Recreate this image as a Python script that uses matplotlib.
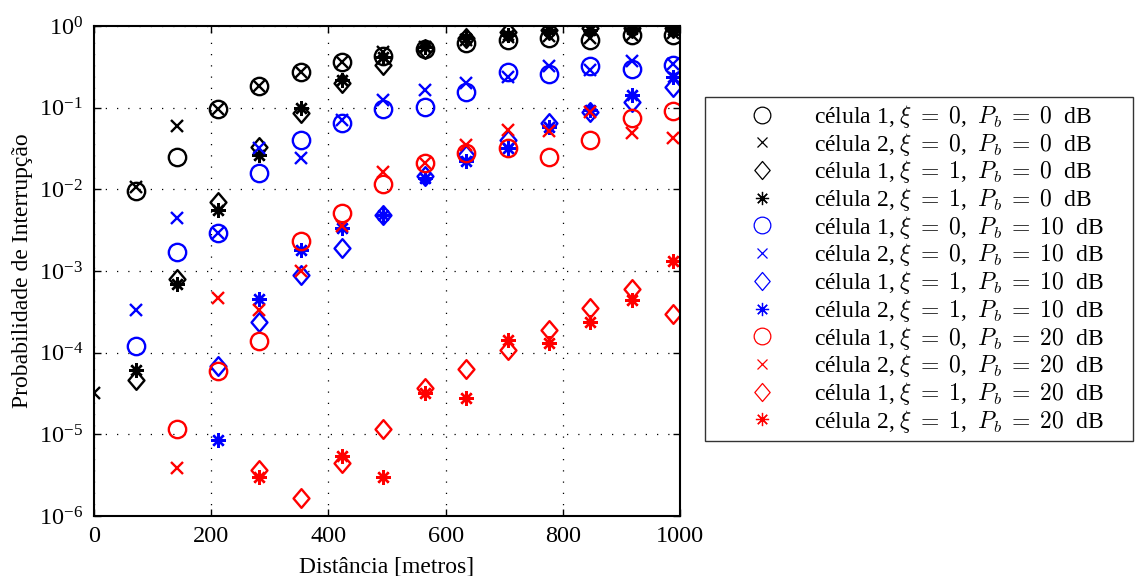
import numpy as np
import matplotlib
matplotlib.use("Agg")
import matplotlib.pyplot as plt
from matplotlib.path import Path
from matplotlib.lines import Line2D
from matplotlib.ticker import LogLocator, LogFormatterMathtext, NullLocator

plt.rcParams["font.family"] = "serif"
plt.rcParams["font.serif"] = ["Liberation Serif", "DejaVu Serif"]
plt.rcParams["mathtext.fontset"] = "cm"

nan = np.nan

# Distance from the base station [m]
dist = [0, 71, 141, 212, 282, 353, 424, 494, 565, 635, 706, 776, 847, 918, 988]

# Outage probability, Pb = 0 dB
c1_xi0_pb0 = [nan, 9.5e-3, 2.5e-2, 9.7e-2, 1.85e-1, 2.7e-1, 3.6e-1, 4.3e-1, 5.2e-1, 6.2e-1, 6.8e-1, 7.1e-1, 6.8e-1, 7.7e-1, 7.8e-1]
c2_xi0_pb0 = [3.2e-5, 1.07e-2, 6.0e-2, 9.7e-2, 1.85e-1, 2.7e-1, 3.6e-1, 4.8e-1, 5.5e-1, 6.7e-1, 7.3e-1, 7.5e-1, 7.1e-1, 7.7e-1, 8.2e-1]
c1_xi1_pb0 = [nan, 4.6e-5, 8.0e-4, 7.0e-3, 3.3e-2, 8.5e-2, 2.0e-1, 3.3e-1, 5.3e-1, 7.1e-1, 8.5e-1, 8.9e-1, 9.5e-1, 9.4e-1, 9.4e-1]
c2_xi1_pb0 = [nan, 6.2e-5, 7.0e-4, 5.6e-3, 2.6e-2, 9.8e-2, 2.2e-1, 4.2e-1, 5.6e-1, 7.1e-1, 7.8e-1, 8.9e-1, 8.9e-1, 9.3e-1, 8.9e-1]

# Outage probability, Pb = 10 dB
c1_xi0_pb10 = [nan, 1.2e-4, 1.7e-3, 2.9e-3, 1.6e-2, 4.0e-2, 6.4e-2, 9.6e-2, 1.03e-1, 1.57e-1, 2.7e-1, 2.56e-1, 3.2e-1, 3.0e-1, 3.3e-1]
c2_xi0_pb10 = [nan, 3.3e-4, 4.4e-3, 2.9e-3, 3.2e-2, 2.45e-2, 7.1e-2, 1.24e-1, 1.65e-1, 1.99e-1, 2.4e-1, 3.2e-1, 2.9e-1, 3.7e-1, 3.4e-1]
c1_xi1_pb10 = [nan, nan, nan, 6.8e-5, 2.4e-4, 9.0e-4, 1.9e-3, 4.9e-3, 1.47e-2, 2.6e-2, 4.0e-2, 6.4e-2, 8.9e-2, 1.16e-1, 1.8e-1]
c2_xi1_pb10 = [nan, nan, nan, 8.5e-6, 4.5e-4, 1.8e-3, 3.4e-3, 4.8e-3, 1.37e-2, 2.2e-2, 3.2e-2, 5.8e-2, 9.4e-2, 1.43e-1, 2.4e-1]

# Outage probability, Pb = 20 dB
c1_xi0_pb20 = [nan, nan, 1.15e-5, 6.0e-5, 1.4e-4, 2.3e-3, 5.2e-3, 1.15e-2, 2.1e-2, 2.77e-2, 3.2e-2, 2.5e-2, 4.0e-2, 7.5e-2, 9.1e-2]
c2_xi0_pb20 = [nan, nan, 3.9e-6, 4.7e-4, 3.3e-4, 1.0e-3, 3.6e-3, 1.65e-2, 2.1e-2, 3.5e-2, 5.3e-2, 5.2e-2, 8.9e-2, 4.9e-2, 4.2e-2]
c1_xi1_pb20 = [nan, nan, nan, nan, 3.7e-6, 1.65e-6, 4.5e-6, 1.15e-5, 3.7e-5, 6.3e-5, 1.08e-4, 1.9e-4, 3.5e-4, 6.1e-4, 2.95e-4]
c2_xi1_pb20 = [nan, nan, nan, nan, 3.0e-6, nan, 5.5e-6, 3.0e-6, 3.2e-5, 2.8e-5, 1.44e-4, 1.3e-4, 2.4e-4, 4.4e-4, 1.33e-3]

labels = [
    r"célula 1, $\xi\;=\;0$,  $P_b\;=\;0$  dB",
    r"célula 2, $\xi\;=\;0$,  $P_b\;=\;0$  dB",
    r"célula 1, $\xi\;=\;1$,  $P_b\;=\;0$  dB",
    r"célula 2, $\xi\;=\;1$,  $P_b\;=\;0$  dB",
    r"célula 1, $\xi\;=\;0$,  $P_b\;=\;10$  dB",
    r"célula 2, $\xi\;=\;0$,  $P_b\;=\;10$  dB",
    r"célula 1, $\xi\;=\;1$,  $P_b\;=\;10$  dB",
    r"célula 2, $\xi\;=\;1$,  $P_b\;=\;10$  dB",
    r"célula 1, $\xi\;=\;0$,  $P_b\;=\;20$  dB",
    r"célula 2, $\xi\;=\;0$,  $P_b\;=\;20$  dB",
    r"célula 1, $\xi\;=\;1$,  $P_b\;=\;20$  dB",
    r"célula 2, $\xi\;=\;1$,  $P_b\;=\;20$  dB",
]

series = [c1_xi0_pb0, c2_xi0_pb0, c1_xi1_pb0, c2_xi1_pb0,
          c1_xi0_pb10, c2_xi0_pb10, c1_xi1_pb10, c2_xi1_pb10,
          c1_xi0_pb20, c2_xi0_pb20, c1_xi1_pb20, c2_xi1_pb20]

# MATLAB-like diamond (slightly narrower than tall)
diamond = Path([(0, 1), (0.85, 0), (0, -1), (-0.85, 0), (0, 1)],
               [Path.MOVETO, Path.LINETO, Path.LINETO, Path.LINETO, Path.CLOSEPOLY])
asterisk = (8, 2, 0)

colors = ["k"] * 4 + ["#0000ff"] * 4 + ["#ff0000"] * 4
markers = ["o", "x", diamond, asterisk] * 3
sizes = [12.5, 8.5, 13.5, 10.5] * 3
leg_sizes = [12, 7.5, 13, 9.5] * 3

fig = plt.figure(figsize=(11.35, 5.76), dpi=100)
ax = fig.add_axes([94 / 1135, 1 - 516 / 576, 586 / 1135, 490 / 576])

for y, c, m, s in zip(series, colors, markers, sizes):
    ax.plot(dist, y, linestyle="none", marker=m, markersize=s,
            markerfacecolor="none", markeredgecolor=c, markeredgewidth=1.7)

ax.set_yscale("log")
ax.set_xlim(0, 1000)
ax.set_ylim(1e-6, 1e0)
ax.set_xticks([0, 200, 400, 600, 800, 1000])
ax.yaxis.set_major_locator(LogLocator(base=10, numticks=10))
ax.yaxis.set_major_formatter(LogFormatterMathtext())
ax.yaxis.set_minor_locator(NullLocator())

ax.tick_params(axis="both", which="major", direction="in", top=True, right=True,
               length=5, width=1.0, labelsize=17.5)
ax.tick_params(axis="x", pad=7)
ax.tick_params(axis="y", pad=8)
for sp in ax.spines.values():
    sp.set_linewidth(1.5)

ax.grid(True, which="major", color="k", linestyle=(0, (1, 8)), linewidth=0.9)

ax.set_xlabel("Distância [metros]", fontsize=17, labelpad=7)
ax.set_ylabel("Probabilidade de Interrupção", fontsize=17, labelpad=4)

handles = [Line2D([], [], linestyle="none", marker=m, markersize=s,
                  markerfacecolor="none", markeredgecolor=c, markeredgewidth=0.9)
           for c, m, s in zip(colors, markers, leg_sizes)]
leg = fig.legend(handles, labels, loc="upper left",
                 bbox_to_anchor=(705 / 1135, 0.2, 428 / 1135, 1 - 97 / 576 - 0.2),
                 mode="expand", fontsize=17, frameon=True, fancybox=False,
                 edgecolor="k", borderpad=0.25, labelspacing=0.03,
                 handlelength=4.3, handletextpad=0.05, borderaxespad=0)
leg.get_frame().set_linewidth(1.0)

fig.savefig("out.png", dpi=100)
